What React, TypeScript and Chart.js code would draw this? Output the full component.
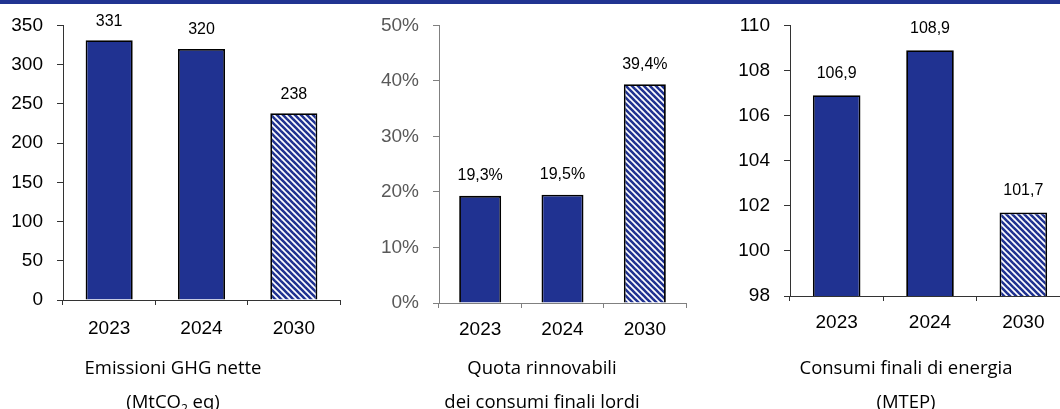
import React, { useEffect, useRef } from 'react';
import { Chart, registerables } from 'chart.js';

Chart.register(...registerables);

const years = ['2023', '2024', '2030'];
const ghgValues = [331, 320, 238];
const renewableValues = [19.3, 19.5, 39.4];
const energyValues = [106.9, 108.9, 101.7];

const ghgTitle = ['Emissioni GHG nette', '(MtCO', '2', ' eq)'];
const renewableTitle = ['Quota rinnovabili', 'dei consumi finali lordi'];
const energyTitle = ['Consumi finali di energia', '(MTEP)'];

const BLUE = '#203291';
const FONT = '"Liberation Sans", Arial, sans-serif';

function makePattern(): CanvasPattern | string {
  const s = 6;
  const c = document.createElement('canvas');
  c.width = s;
  c.height = s;
  const g = c.getContext('2d');
  if (!g) return BLUE;
  g.fillStyle = '#ffffff';
  g.fillRect(0, 0, s, s);
  g.strokeStyle = BLUE;
  g.lineWidth = 2.6;
  for (const x0 of [-s, 0, s]) {
    g.beginPath();
    g.moveTo(x0 - 1, -1);
    g.lineTo(x0 + s + 1, s + 1);
    g.stroke();
  }
  return g.createPattern(c, 'repeat') || BLUE;
}

type PanelProps = {
  left: number;
  width: number;
  values: number[];
  min: number;
  max: number;
  step: number;
  tickFmt: (v: number) => string;
  labelFmt: (v: number) => string;
  yWidth: number;
  padRight: number;
  padTop: number;
  xHeight: number;
  xPad: number;
  tickColor: string;
  axisColor: string;
  labelOffset: number;
};

function Panel(p: PanelProps) {
  const ref = useRef<HTMLCanvasElement | null>(null);
  useEffect(() => {
    if (!ref.current) return;
    const pattern = makePattern();
    const labelPlugin = {
      id: 'valueLabels',
      afterDatasetsDraw(chart: any) {
        const ctx = chart.ctx;
        const meta = chart.getDatasetMeta(0);
        const data = chart.data.datasets[0].data as number[];
        ctx.save();
        ctx.font = `16px ${FONT}`;
        ctx.fillStyle = '#000';
        ctx.textAlign = 'center';
        ctx.textBaseline = 'middle';
        meta.data.forEach((el: any, i: number) => {
          ctx.fillText(p.labelFmt(data[i]), el.x, el.y - p.labelOffset);
        });
        ctx.restore();
      },
    };
    const chart = new Chart(ref.current, {
      type: 'bar',
      data: {
        labels: years,
        datasets: [
          {
            data: p.values,
            backgroundColor: [BLUE, BLUE, pattern] as any,
            borderColor: '#000',
            borderWidth: 1.8,
            barPercentage: 0.51,
            categoryPercentage: 1,
          },
        ],
      },
      options: {
        animation: false,
        responsive: false,
        layout: { padding: { left: 0, right: p.padRight, top: p.padTop, bottom: 0 } },
        plugins: { legend: { display: false }, tooltip: { enabled: false } },
        font: { family: FONT },
        scales: {
          x: {
            type: 'category',
            offset: true,
            grid: {
              display: true,
              offset: true,
              drawOnChartArea: false,
              drawTicks: true,
              tickLength: 5,
              color: p.axisColor,
            },
            border: { display: true, color: p.axisColor, width: 1 },
            ticks: {
              color: '#000',
              font: { size: 19, family: FONT },
              padding: p.xPad,
              maxRotation: 0,
              autoSkip: false,
            },
            afterFit: (s: any) => {
              s.height = p.xHeight;
            },
          },
          y: {
            min: p.min,
            max: p.max,
            grid: {
              display: true,
              drawOnChartArea: false,
              drawTicks: true,
              tickLength: 6,
              color: p.axisColor,
            },
            border: { display: true, color: p.axisColor, width: 1 },
            ticks: {
              stepSize: p.step,
              color: p.tickColor,
              font: { size: 19, family: FONT },
              padding: 14,
              callback: (v: any) => p.tickFmt(Number(v)),
            },
            afterFit: (s: any) => {
              s.width = p.yWidth;
            },
          },
        },
      } as any,
      plugins: [labelPlugin],
    });
    return () => chart.destroy();
  }, []);
  return (
    <canvas
      ref={ref}
      width={p.width}
      height={409}
      style={{ position: 'absolute', left: p.left, top: 0, width: p.width, height: 409 }}
    />
  );
}

const titleStyle = (center: number): React.CSSProperties => ({
  position: 'absolute',
  left: center - 160,
  width: 320,
  top: 350,
  textAlign: 'center',
  fontFamily: '"Open Sans", sans-serif',
  fontSize: 18.5,
  lineHeight: '34px',
  color: '#000',
  whiteSpace: 'nowrap',
});

const comma = (v: number, d: number) => v.toFixed(d).replace('.', ',');

export default function App() {
  return (
    <div
      style={{
        position: 'fixed',
        left: 0,
        top: 0,
        width: 1060,
        height: 409,
        overflow: 'hidden',
        background: '#fff',
      }}
    >
      <div style={{ position: 'absolute', left: 0, top: 0, width: 1060, height: 4, background: '#213491' }} />
      <Panel
        left={0}
        width={360}
        values={ghgValues}
        min={0}
        max={350}
        step={50}
        tickFmt={(v) => String(v)}
        labelFmt={(v) => String(v)}
        yWidth={63}
        padRight={20}
        padTop={24}
        xHeight={109}
        xPad={12}
        tickColor="#000"
        axisColor="#333333"
        labelOffset={19}
      />
      <Panel
        left={360}
        width={340}
        values={renewableValues}
        min={0}
        max={50}
        step={10}
        tickFmt={(v) => `${v}%`}
        labelFmt={(v) => `${comma(v, 1)}%`}
        yWidth={79}
        padRight={14}
        padTop={24}
        xHeight={106}
        xPad={10}
        tickColor="#595959"
        axisColor="#808080"
        labelOffset={20}
      />
      <Panel
        left={720}
        width={360}
        values={energyValues}
        min={98}
        max={110}
        step={2}
        tickFmt={(v) => String(v)}
        labelFmt={(v) => comma(v, 1)}
        yWidth={70}
        padRight={10}
        padTop={21}
        xHeight={113}
        xPad={10}
        tickColor="#000"
        axisColor="#333333"
        labelOffset={22}
      />
      <div style={titleStyle(173)}>
        {ghgTitle[0]}
        <br />
        {ghgTitle[1]}
        <sub style={{ fontSize: '0.65em', lineHeight: 0, verticalAlign: 'sub' }}>{ghgTitle[2]}</sub>
        {ghgTitle[3]}
      </div>
      <div style={titleStyle(542)}>
        {renewableTitle[0]}
        <br />
        {renewableTitle[1]}
      </div>
      <div style={titleStyle(906)}>
        {energyTitle[0]}
        <br />
        {energyTitle[1]}
      </div>
    </div>
  );
}
